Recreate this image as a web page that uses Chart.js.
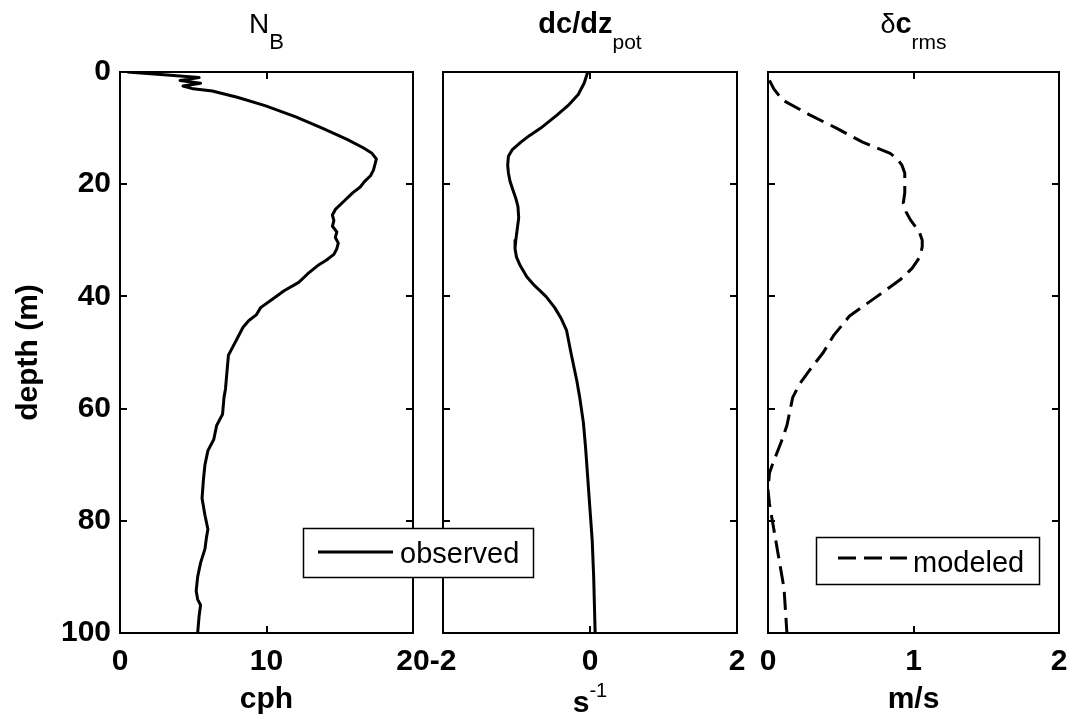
<!DOCTYPE html>
<html lang="en">
<head>
  <meta charset="utf-8" />
  <title>Depth profiles</title>
  <script src="https://cdn.jsdelivr.net/npm/chart.js@4.4.1/dist/chart.umd.min.js"></script>
  <style>
    body { margin: 0; background: #fff; }
    #stage { position: relative; width: 1071px; height: 721px; }
    #stage canvas { position: absolute; left: 0; top: 0; }
  </style>
</head>
<body>
  <div id="stage">
    <canvas id="gradChart" width="1071" height="721"></canvas>
    <canvas id="rmsChart" width="1071" height="721"></canvas>
    <canvas id="nbChart" width="1071" height="721"></canvas>
  </div>

  <script>
    // buoyancy frequency profile (observed), cph
    const nbDepth = [0, 0.5, 1.0, 1.5, 2.0, 2.5, 3.0, 3.4, 4.5, 6, 8, 10, 12, 13.5, 14.5, 15.5, 16.5, 17.5,
      18.5, 19.5, 20.5, 21.5, 23, 24.5, 25.5, 26.5, 27.5, 28.5, 29.5, 30.5, 31.5, 32.5, 33.5, 34.5, 36, 37.5,
      39, 40.5, 42, 43.3, 44.3, 45.5, 47.5, 49, 50.5, 53.5, 56.5, 58, 61, 63, 65.5, 67.5, 70, 72.5, 76, 79,
      81.5, 83, 85, 87.5, 90, 92.5, 94, 95, 97, 100];
    const nbValues = [0.5, 3.0, 5.4, 4.1, 5.5, 4.3, 5.0, 6.3, 8.0, 9.9, 12.0, 13.8, 15.5, 16.6, 17.2, 17.5, 17.4, 17.3,
      17.1, 16.7, 16.4, 15.9, 15.3, 14.7, 14.5, 14.6, 14.5, 14.8, 14.7, 14.9, 14.8, 14.6, 14.1, 13.5, 12.8, 12.2,
      11.2, 10.4, 9.6, 9.3, 8.8, 8.4, 8.0, 7.7, 7.4, 7.3, 7.2, 7.1, 7.0, 6.6, 6.4, 6.0, 5.8, 5.7, 5.6, 5.8,
      6.0, 5.9, 5.8, 5.5, 5.3, 5.2, 5.3, 5.5, 5.4, 5.3];

    // potential sound speed gradient, 1/s
    const gradDepth = [0, 2, 4, 6, 7.7, 10, 11.3, 12.5, 13.9, 15, 16.6, 18, 19.4, 21, 22.5, 24, 26, 28, 30, 31.5,
      33, 34.5, 36.5, 38, 40, 42, 44, 46, 48, 50, 52.5, 55, 58, 62.5, 67, 72.5, 78, 83.5, 90, 95, 100];
    const gradValues = [-0.03, -0.08, -0.16, -0.3, -0.45, -0.67, -0.82, -0.94, -1.06, -1.11, -1.12, -1.11, -1.09,
      -1.05, -1.01, -0.98, -0.97, -0.99, -1.01, -1.02, -1.0, -0.95, -0.86, -0.76, -0.6, -0.48, -0.39, -0.32,
      -0.29, -0.26, -0.22, -0.18, -0.14, -0.09, -0.06, -0.03, 0.0, 0.03, 0.05, 0.06, 0.07];

    // rms sound speed fluctuation (modeled), m/s
    const rmsDepth = [1.5, 3, 5, 7.7, 10, 12.5, 14.5, 15.5, 16.6, 18, 19.8, 21.5, 23.4, 25, 26.4, 28.5, 30, 31.1,
      32.5, 33.5, 35, 37, 40, 43.5, 47, 50, 53, 55.5, 58, 60.5, 63, 66, 68, 70, 71.5, 74.5, 77, 80, 83, 86,
      89, 92, 96, 100];
    const rmsValues = [0.01, 0.04, 0.1, 0.29, 0.47, 0.65, 0.84, 0.89, 0.92, 0.94, 0.94, 0.94, 0.93, 0.95, 0.98,
      1.04, 1.06, 1.06, 1.05, 1.03, 0.99, 0.91, 0.75, 0.56, 0.45, 0.38, 0.29, 0.22, 0.17, 0.15, 0.13, 0.09,
      0.06, 0.03, 0.01, 0.0, 0.01, 0.03, 0.05, 0.07, 0.09, 0.11, 0.12, 0.13];

    // tick labels
    const depthTicks = [0, 20, 40, 60, 80, 100];
    const nbTicks = [0, 10, 20];
    const gradTicks = [-2, 0, 2];
    const rmsTicks = [0, 1, 2];

    const FONT = "'Liberation Sans', Arial, Helvetica, sans-serif";
    Chart.defaults.font.family = FONT;
    Chart.defaults.color = '#000';

    function profile(depth, values) {
      const n = Math.min(depth.length, values.length);
      const pts = [];
      for (let i = 0; i < n; i++) pts.push({ x: values[i], y: depth[i] });
      return pts;
    }

    // text with sub/superscripts, centred on cx
    function drawRich(ctx, segs, cx, baseline) {
      let total = 0;
      segs.forEach(s => {
        ctx.font = (s.bold ? 'bold ' : '') + s.size + 'px ' + FONT;
        s.w = ctx.measureText(s.text).width;
        total += s.w;
      });
      let x = cx - total / 2;
      ctx.textAlign = 'left';
      ctx.textBaseline = 'alphabetic';
      ctx.fillStyle = '#000';
      segs.forEach(s => {
        ctx.font = (s.bold ? 'bold ' : '') + s.size + 'px ' + FONT;
        ctx.fillText(s.text, x, baseline - (s.rise || 0));
        x += s.w;
      });
    }

    function makePanel(id, cfg) {
      // box, inward ticks, title, unit label and legend
      const decor = {
        id: 'decor',
        afterDraw(chart) {
          const ctx = chart.ctx;
          const { left, right, top, bottom } = chart.chartArea;
          const xs = chart.scales.x, ys = chart.scales.y;
          ctx.save();
          ctx.strokeStyle = '#000';
          ctx.lineWidth = 2;
          ctx.strokeRect(left, top, right - left, bottom - top);
          ctx.beginPath();
          xs.ticks.forEach((t, i) => {
            const px = Math.round(xs.getPixelForTick(i));
            ctx.moveTo(px, bottom); ctx.lineTo(px, bottom - 7);
            ctx.moveTo(px, top); ctx.lineTo(px, top + 7);
          });
          ys.ticks.forEach((t, i) => {
            const py = Math.round(ys.getPixelForTick(i));
            ctx.moveTo(left, py); ctx.lineTo(left + 7, py);
            ctx.moveTo(right, py); ctx.lineTo(right - 7, py);
          });
          ctx.stroke();

          const cx = (left + right) / 2;
          drawRich(ctx, cfg.title, cx, 33);
          drawRich(ctx, cfg.unit, cx, cfg.unitBaseline);

          const lg = cfg.legend;
          if (lg) {
            const ds = chart.data.datasets[0];
            ctx.fillStyle = '#fff';
            ctx.fillRect(lg.x, lg.y, lg.w, lg.h);
            ctx.lineWidth = 1.5;
            ctx.strokeStyle = '#000';
            ctx.strokeRect(lg.x + 0.5, lg.y + 0.5, lg.w, lg.h);
            ctx.beginPath();
            ctx.setLineDash(ds.borderDash || []);
            ctx.lineWidth = ds.borderWidth;
            ctx.moveTo(lg.x1, lg.ly);
            ctx.lineTo(lg.x2, lg.ly);
            ctx.stroke();
            ctx.setLineDash([]);
            ctx.fillStyle = '#000';
            ctx.font = '29px ' + FONT;
            ctx.textAlign = 'left';
            ctx.textBaseline = 'alphabetic';
            ctx.fillText(ds.label, lg.tx, lg.tb);
          }
          ctx.restore();
        }
      };

      const tickFont = { size: 30, weight: 'bold' };
      return new Chart(document.getElementById(id), {
        type: 'scatter',
        data: {
          datasets: [{
            label: cfg.label,
            data: profile(cfg.depth, cfg.values),
            showLine: true,
            borderColor: '#000',
            borderWidth: 3,
            borderDash: cfg.dash || [],
            borderJoinStyle: 'round',
            pointRadius: 0,
            tension: 0
          }]
        },
        options: {
          responsive: false,
          animation: false,
          events: [],
          layout: { padding: { left: cfg.padLeft, right: cfg.padRight, top: 72, bottom: 0 } },
          plugins: { legend: { display: false }, tooltip: { enabled: false } },
          scales: {
            x: {
              type: 'linear',
              min: cfg.xMin,
              max: cfg.xMax,
              grid: { display: false, drawTicks: false },
              border: { display: false },
              afterBuildTicks: s => { s.ticks = cfg.xTicks.map(v => ({ value: v })); },
              afterFit: s => { s.height = 88; s.paddingLeft = 0; s.paddingRight = 0; },
              ticks: { font: tickFont, padding: 11, maxRotation: 0, autoSkip: false }
            },
            y: {
              type: 'linear',
              reverse: true,
              min: 0,
              max: 100,
              grid: { display: false, drawTicks: false },
              border: { display: false },
              afterBuildTicks: s => { s.ticks = depthTicks.map(v => ({ value: v })); },
              afterFit: s => { s.width = cfg.yWidth; },
              ticks: { display: cfg.yLabels, font: tickFont, padding: 9 },
              title: {
                display: cfg.yLabels,
                text: 'depth (m)',
                font: { size: 30, weight: 'bold' },
                padding: { top: 11, bottom: 0 }
              }
            }
          }
        },
        plugins: [decor]
      });
    }

    makePanel('gradChart', {
      label: 'observed',
      depth: gradDepth, values: gradValues,
      xMin: -2, xMax: 2, xTicks: gradTicks,
      padLeft: 443, padRight: 334, yWidth: 0, yLabels: false,
      title: [{ text: 'dc/dz', bold: true, size: 29 }, { text: 'pot', size: 21, rise: -16 }],
      unit: [{ text: 's', bold: true, size: 30 }, { text: '-1', size: 20, rise: 15 }],
      unitBaseline: 712
    });

    makePanel('rmsChart', {
      label: 'modeled',
      depth: rmsDepth, values: rmsValues, dash: [18, 8],
      xMin: 0, xMax: 2, xTicks: rmsTicks,
      padLeft: 768, padRight: 12, yWidth: 0, yLabels: false,
      title: [{ text: 'δ', size: 27 }, { text: 'c', bold: true, size: 29 }, { text: 'rms', size: 21, rise: -16 }],
      unit: [{ text: 'm/s', bold: true, size: 30 }],
      unitBaseline: 708,
      legend: { x: 816, y: 537, w: 223, h: 47, x1: 838, x2: 907, ly: 558, tx: 913, tb: 572 }
    });

    makePanel('nbChart', {
      label: 'observed',
      depth: nbDepth, values: nbValues,
      xMin: 0, xMax: 20, xTicks: nbTicks,
      padLeft: 0, padRight: 658, yWidth: 120, yLabels: true,
      title: [{ text: 'N', size: 28 }, { text: 'B', size: 22, rise: -16 }],
      unit: [{ text: 'cph', bold: true, size: 30 }],
      unitBaseline: 708,
      legend: { x: 303, y: 528, w: 230, h: 49, x1: 318, x2: 393, ly: 552, tx: 400, tb: 563 }
    });
  </script>
</body>
</html>
